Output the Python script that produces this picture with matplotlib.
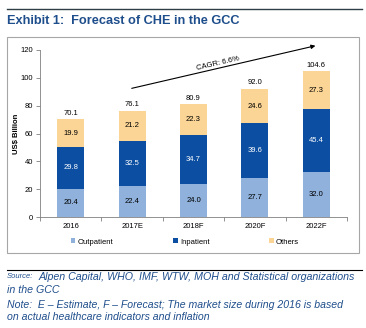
import matplotlib.pyplot as plt
import numpy as np
from matplotlib.patches import Rectangle
from matplotlib.lines import Line2D

years = ["2016", "2017E", "2018F", "2020F", "2022F"]
outpatient = [20.4, 22.4, 24.0, 27.7, 32.0]
inpatient = [29.8, 32.5, 34.7, 39.6, 45.4]
others = [19.9, 21.2, 22.3, 24.6, 27.3]
totals = [70.1, 76.1, 80.9, 92.0, 104.6]
series_names = ["Outpatient", "Inpatient", "Others"]
colors = ["#8FB1DC", "#0B4EA2", "#FBD595"]
blue_txt = "#1F4E8C"

plt.rcParams['font.family'] = ['Liberation Sans', 'DejaVu Sans']

fig = plt.figure(figsize=(3.66, 3.28), dpi=100)
W, H = 366, 328

def fx(px):
    return px / W

def fy(py):
    return 1 - py / H

# header line and title
fig.add_artist(Line2D([fx(7), fx(362)], [fy(9), fy(9)], color="#2F3E46", lw=1.0))
fig.text(fx(7), fy(21), "Exhibit 1:  Forecast of CHE in the GCC", fontsize=9.2,
         fontweight="bold", color=blue_txt, va="center", ha="left")

# chart frame
fig.add_artist(Rectangle((fx(7), fy(253)), fx(359) - fx(7), fy(37) - fy(253),
                         fill=False, edgecolor="#A6A6A6", lw=0.8))

ax = fig.add_axes([fx(40), fy(217), fx(347) - fx(40), fy(50) - fy(217)])
x = np.arange(len(years))
w = 0.44
b1 = ax.bar(x, outpatient, w, color=colors[0], label=series_names[0])
b2 = ax.bar(x, inpatient, w, bottom=outpatient, color=colors[1], label=series_names[1])
bot3 = np.array(outpatient) + np.array(inpatient)
b3 = ax.bar(x, others, w, bottom=bot3, color=colors[2], label=series_names[2])

for i in range(len(years)):
    ax.text(x[i], outpatient[i] / 2, f"{outpatient[i]:.1f}", ha="center", va="center",
            fontsize=5.5, color="black")
    ax.text(x[i], outpatient[i] + inpatient[i] / 2, f"{inpatient[i]:.1f}", ha="center",
            va="center", fontsize=5.5, color="white")
    ax.text(x[i], bot3[i] + others[i] / 2, f"{others[i]:.1f}", ha="center", va="center",
            fontsize=5.5, color="black")
    ax.text(x[i], totals[i] + 2, f"{totals[i]:.1f}", ha="center", va="bottom",
            fontsize=5.5, color="black")

ax.set_xlim(-0.5, len(years) - 0.5)
ax.set_ylim(0, 120)
ax.set_yticks(range(0, 121, 20))
ax.set_xticks(x)
ax.set_xticklabels(years)
ax.set_xticks(np.arange(-0.5, len(years), 1), minor=True)
ax.tick_params(axis="x", which="major", length=0, labelsize=5.5, pad=4)
ax.tick_params(axis="x", which="minor", length=3, color="#808080", width=0.6)
ax.tick_params(axis="y", length=3, color="#808080", width=0.6, labelsize=5.5, pad=2)
for s in ["top", "right"]:
    ax.spines[s].set_visible(False)
ax.spines["left"].set_color("#808080")
ax.spines["bottom"].set_color("#808080")
ax.spines["left"].set_linewidth(0.6)
ax.spines["bottom"].set_linewidth(0.6)
ax.set_ylabel("US$ Billion", fontsize=5.5, fontweight="bold", labelpad=0)

# CAGR arrow
ax.annotate("", xy=(4.03, 123.5), xytext=(0.95, 92), annotation_clip=False,
            arrowprops=dict(arrowstyle="-|>", color="black", lw=0.8, mutation_scale=6))
ax.text(2.4, 110, "CAGR: 6.6%", fontsize=5.5, rotation=13, ha="center", va="center")

fig.legend(handles=[b1, b2, b3], labels=series_names, loc="center",
           bbox_to_anchor=(fx(185), fy(242)), ncol=3, frameon=False, fontsize=5.5,
           handlelength=0.6, handleheight=0.6, columnspacing=7.8, handletextpad=0.3)

# footer
fig.add_artist(Line2D([fx(7), fx(362)], [fy(270), fy(270)], color="black", lw=0.8))
fig.text(fx(7), fy(277), "Source:", fontsize=5.5, style="italic", color=blue_txt,
         va="center", ha="left")
fig.text(fx(39), fy(277), "Alpen Capital, WHO, IMF, WTW, MOH and Statistical organizations",
         fontsize=7.7, style="italic", color=blue_txt, va="center", ha="left")
fig.text(fx(7), fy(290), "in the GCC", fontsize=7.7, style="italic", color=blue_txt,
         va="center", ha="left")
fig.text(fx(7), fy(305), "Note:  E \u2013 Estimate, F \u2013 Forecast; The market size during 2016 is based",
         fontsize=7.6, style="italic", color=blue_txt, va="center", ha="left")
fig.text(fx(7), fy(317), "on actual healthcare indicators and inflation",
         fontsize=7.6, style="italic", color=blue_txt, va="center", ha="left")

fig.savefig("out.png", dpi=100)
